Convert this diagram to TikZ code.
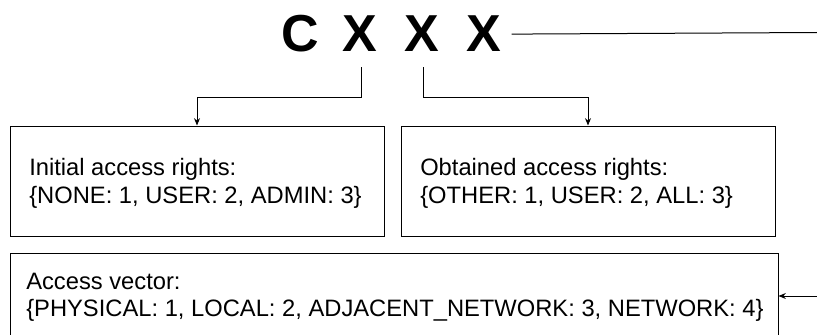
\documentclass[tikz,border=0pt]{standalone}
\usepackage{fontspec}
\setmainfont{Liberation Sans}
\usetikzlibrary{arrows.meta,fit}
\begin{document}
\begin{tikzpicture}[x=0.75pt,y=-0.75pt,
  box/.style={draw, line width=0.75pt, inner sep=0pt},
  lbl/.style={anchor=base west, inner sep=0pt, font=\fontsize{17.8pt}{21pt}\selectfont},
  letter/.style={anchor=base, inner sep=0pt, font=\fontsize{39pt}{39pt}\selectfont\bfseries},
  conn/.style={line width=0.75pt},
  arr/.style={conn, -{Stealth[length=5.5pt,width=4.5pt]}}]
\useasboundingbox (0,0) rectangle (817,335);
\clip (0,0) rectangle (817,335);
% code letters
\node[letter] (c)  at (300,52) {C};
\node[letter] (x1) at (360,52) {X};
\node[letter] (x2) at (422,52) {X};
\node[letter] (x3) at (484,52) {X};
% boxes
\node[box, fit={(10,126) (384,236)}] (b1) {};
\node[box, fit={(401,126) (775,236)}] (b2) {};
\node[box, fit={(10,253) (778,339)}] (b3) {};
% texts
\node[lbl] (t1a) at (29,175) {Initial access rights:};
\node[lbl] (t1b) at (29,203) {\{NONE: 1, USER: 2, ADMIN: 3\}};
\node[lbl] (t2a) at (420,175) {Obtained access rights:};
\node[lbl] (t2b) at (420,203) {\{OTHER: 1, USER: 2, ALL: 3\}};
\node[lbl] (t3a) at (26,289) {Access vector:};
\node[lbl] (t3b) at (26,316) {\{PHYSICAL: 1, LOCAL: 2, ADJACENT\_NETWORK: 3, NETWORK: 4\}};
% connectors
\coordinate (rt) at (817,32.5);
\coordinate (rb) at (817,296);
\draw[conn] ([xshift=7.5pt]x3.east) -- (rt);
\draw[arr] ([xshift=0.75pt,yshift=-11.25pt]x1.south) -- ++(0,30) -| (b1.north);
\draw[arr] ([xshift=0.75pt,yshift=-11.25pt]x2.south) -- ++(0,30) -| (b2.north);
\draw[arr] (rb) -- (rb -| b3.east);
\end{tikzpicture}
\end{document}
